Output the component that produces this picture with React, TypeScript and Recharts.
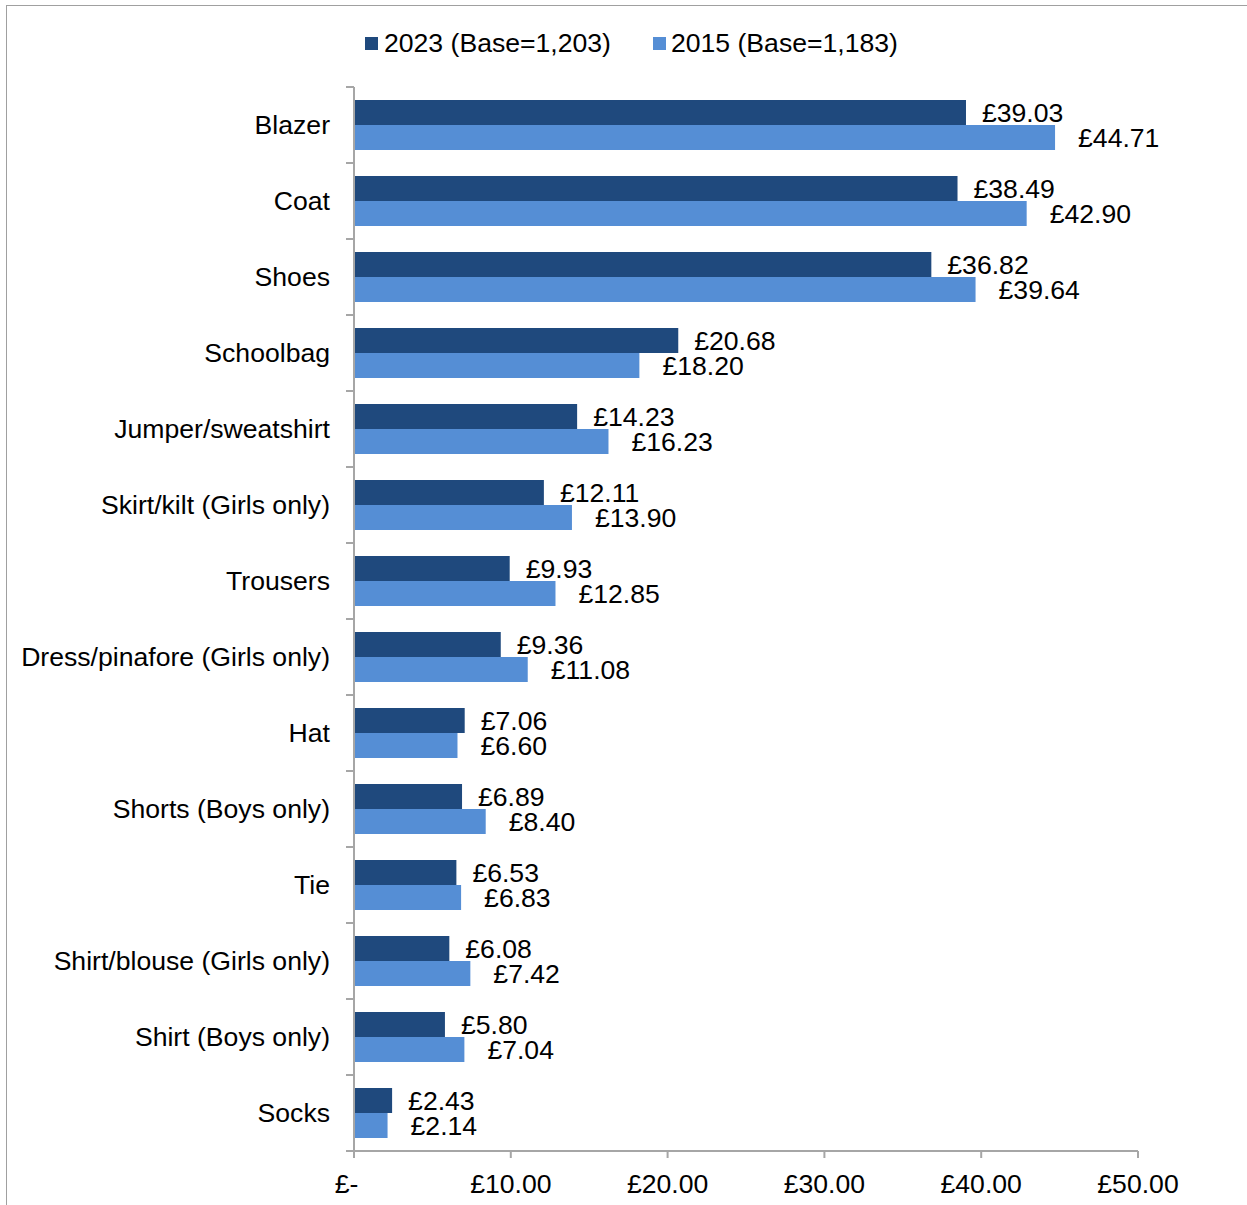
import React from "react";
import { BarChart, Bar, XAxis, YAxis, LabelList } from "recharts";

const categories = [
  "Blazer",
  "Coat",
  "Shoes",
  "Schoolbag",
  "Jumper/sweatshirt",
  "Skirt/kilt (Girls only)",
  "Trousers",
  "Dress/pinafore (Girls only)",
  "Hat",
  "Shorts (Boys only)",
  "Tie",
  "Shirt/blouse (Girls only)",
  "Shirt (Boys only)",
  "Socks",
];
const values2023 = [39.03, 38.49, 36.82, 20.68, 14.23, 12.11, 9.93, 9.36, 7.06, 6.89, 6.53, 6.08, 5.8, 2.43];
const values2015 = [44.71, 42.9, 39.64, 18.2, 16.23, 13.9, 12.85, 11.08, 6.6, 8.4, 6.83, 7.42, 7.04, 2.14];
const xTicks = [0, 10, 20, 30, 40, 50];
const seriesNames = ["2023 (Base=1,203)", "2015 (Base=1,183)"];

const DARK = "#1f497d";
const LIGHT = "#558ed5";
const AXIS = "#a6a6a6";
const FONT = "Arial, 'Liberation Sans', sans-serif";
const FS = 26.6;

const CHART_W = 1247;
const CHART_H = 1205;
const MARGIN = { top: 87, right: 109, bottom: 0, left: 0 };
const X_AXIS_H = 54;
const Y_AXIS_W = 354;
const TICK_SIZE = 8;
const TICK_MARGIN = 16;
const PLOT_H = CHART_H - MARGIN.top - MARGIN.bottom - X_AXIS_H;
const HALF_BAND = PLOT_H / categories.length / 2;

const data = categories.map((c, i) => ({ name: c, v2023: values2023[i], v2015: values2015[i] }));

const fmt = (v: any) => `£${Number(v).toFixed(2)}`;
const xFmt = (v: number) => (v === 0 ? "£-\u00a0\u00a0" : `£${v.toFixed(2)}`);

const CategoryTick = (props: any) => {
  const { x, y, payload, index } = props;
  const axisX = x + TICK_SIZE + TICK_MARGIN;
  const isLast = index === categories.length - 1;
  return (
    <g>
      <line x1={axisX - TICK_SIZE} x2={axisX} y1={y - HALF_BAND} y2={y - HALF_BAND} stroke={AXIS} strokeWidth={2} />
      {isLast && (
        <line x1={axisX - TICK_SIZE} x2={axisX} y1={y + HALF_BAND} y2={y + HALF_BAND} stroke={AXIS} strokeWidth={2} />
      )}
      <text x={x} y={y} dy="0.355em" textAnchor="end" fill="#000" fontSize={FS} fontFamily={FONT}>
        {payload.value}
      </text>
    </g>
  );
};

export default function App() {
  return (
    <div style={{ position: "absolute", left: 0, top: 0, width: CHART_W, height: CHART_H, overflow: "hidden", background: "#fff", fontFamily: FONT }}>
      <div style={{ position: "absolute", left: 6, top: 5, width: 1400, height: 1400, borderLeft: "1.5px solid #a0a0a0", borderTop: "1.5px solid #a0a0a0" }} />
      <div style={{ position: "absolute", left: 365, top: 27, height: 32, display: "flex", alignItems: "center", fontSize: FS, color: "#000", whiteSpace: "nowrap" }}>
        <span style={{ width: 13, height: 13, background: DARK, display: "inline-block", marginRight: 6 }} />
        <span>{seriesNames[0]}</span>
        <span style={{ width: 13, height: 13, background: LIGHT, display: "inline-block", marginLeft: 42, marginRight: 5 }} />
        <span>{seriesNames[1]}</span>
      </div>
      <div style={{ position: "absolute", left: 0, top: 0 }}>
        <BarChart
          width={CHART_W}
          height={CHART_H}
          data={data}
          layout="vertical"
          margin={MARGIN}
          barGap={0}
        >
          <XAxis
            type="number"
            domain={[0, 50]}
            ticks={xTicks}
            tickFormatter={xFmt}
            height={X_AXIS_H}
            tickSize={7}
            tickMargin={16}
            tick={{ fill: "#000", fontSize: FS, fontFamily: FONT }}
            axisLine={{ stroke: AXIS, strokeWidth: 2 }}
            tickLine={{ stroke: AXIS, strokeWidth: 2 }}
            interval={0}
          />
          <YAxis
            type="category"
            dataKey="name"
            width={Y_AXIS_W}
            tickSize={TICK_SIZE}
            tickMargin={TICK_MARGIN}
            interval={0}
            tick={<CategoryTick />}
            axisLine={{ stroke: AXIS, strokeWidth: 2 }}
            tickLine={false}
          />
          <Bar dataKey="v2023" fill={DARK} barSize={25} isAnimationActive={false}>
            <LabelList dataKey="v2023" position="right" offset={16} formatter={fmt} style={{ fill: "#000", fontSize: FS, fontFamily: FONT }} />
          </Bar>
          <Bar dataKey="v2015" fill={LIGHT} barSize={25} isAnimationActive={false}>
            <LabelList dataKey="v2015" position="right" offset={23} formatter={fmt} style={{ fill: "#000", fontSize: FS, fontFamily: FONT }} />
          </Bar>
        </BarChart>
      </div>
    </div>
  );
}
